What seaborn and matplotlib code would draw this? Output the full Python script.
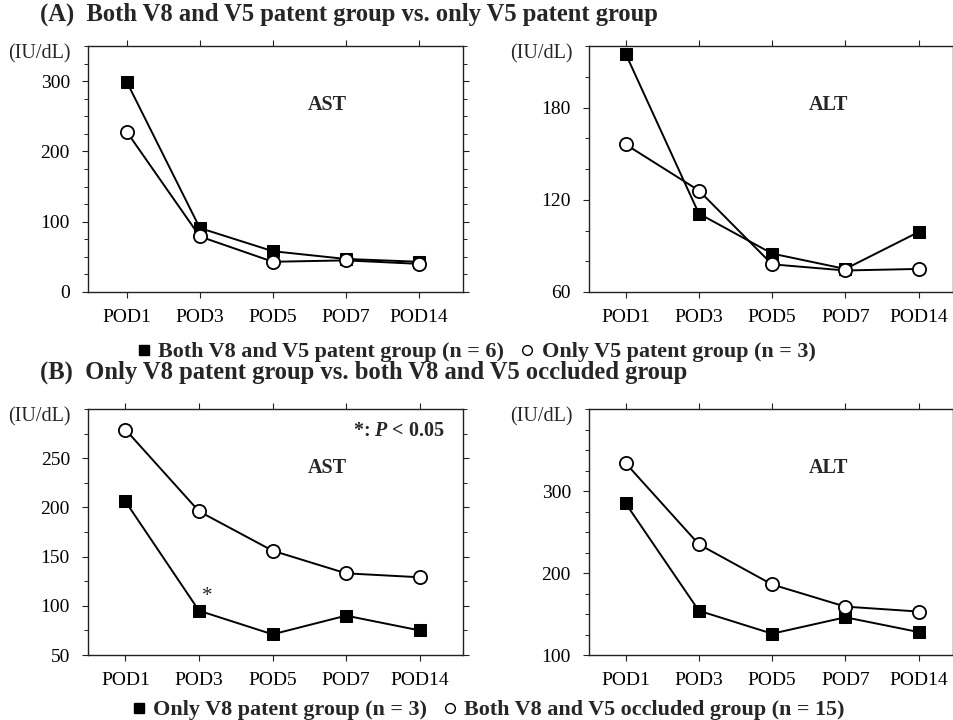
import matplotlib
matplotlib.use("Agg")
import matplotlib.pyplot as plt
from matplotlib.lines import Line2D
from matplotlib.ticker import MultipleLocator, FixedLocator
import seaborn as sns
import pandas as pd

sns.set_style("ticks")
plt.rcParams['font.family'] = ['Liberation Serif', 'DejaVu Serif']
plt.rcParams['mathtext.fontset'] = 'custom'
plt.rcParams['mathtext.it'] = 'Liberation Serif:italic:bold'
plt.rcParams['mathtext.rm'] = 'Liberation Serif:bold'

pods = ["POD1", "POD3", "POD5", "POD7", "POD14"]

# Panel A
ast_a_both = [299, 91, 58, 47, 43]
ast_a_only = [228, 79, 43, 45, 40]
alt_a_both = [215, 111, 85, 75, 99]
alt_a_only = [156, 126, 78, 74, 75]
# Panel B
ast_b_v8 = [206, 95, 71, 90, 75]
ast_b_occ = [279, 196, 156, 133, 129]
alt_b_v8 = [285, 154, 126, 146, 128]
alt_b_occ = [334, 235, 186, 159, 153]

title_a = "(A)  Both V8 and V5 patent group vs. only V5 patent group"
title_b = "(B)  Only V8 patent group vs. both V8 and V5 occluded group"
legend_a = ["Both V8 and V5 patent group (n = 6)", "Only V5 patent group (n = 3)"]
legend_b = ["Only V8 patent group (n = 3)", "Both V8 and V5 occluded group (n = 15)"]
unit = "(IU/dL)"

fig = plt.figure(figsize=(9.54, 7.2), dpi=100)
W, H = 954, 720


def make_ax(x0, x1, y0, y1):
    return fig.add_axes([x0 / W, 1 - y1 / H, (x1 - x0) / W, (y1 - y0) / H])


ax_tl = make_ax(88, 463, 46, 292)
ax_tr = make_ax(589, 953, 46, 292)
ax_bl = make_ax(88, 463, 409, 655)
ax_br = make_ax(589, 953, 409, 655)

panels = [
    (ax_tl, ast_a_both, ast_a_only, (0, 350), [0, 100, 200, 300], 25, (-0.53, 4.6), "AST", 0.637),
    (ax_tr, alt_a_both, alt_a_only, (60, 220), [60, 120, 180], 20, (-0.5, 4.47), "ALT", 0.657),
    (ax_bl, ast_b_v8, ast_b_occ, (50, 300), [50, 100, 150, 200, 250], 25, (-0.51, 4.59), "AST", 0.637),
    (ax_br, alt_b_v8, alt_b_occ, (100, 400), [100, 200, 300], 25, (-0.5, 4.47), "ALT", 0.657),
]

for ax, filled, opened, ylim, yt, minor, xlim, name, nx in panels:
    df = pd.DataFrame({"pod": pods, "filled": filled, "open": opened})
    sns.lineplot(data=df, x="pod", y="filled", ax=ax, color="black", lw=1.4,
                 marker="s", markersize=8, markerfacecolor="black",
                 markeredgecolor="black", zorder=3, sort=False)
    sns.lineplot(data=df, x="pod", y="open", ax=ax, color="black", lw=1.4,
                 marker="o", markersize=9.5, markerfacecolor="white",
                 markeredgecolor="black", markeredgewidth=1.3, zorder=4, sort=False)
    ax.set_ylim(*ylim)
    ax.set_xlim(*xlim)
    ax.yaxis.set_major_locator(FixedLocator(yt))
    ax.yaxis.set_minor_locator(MultipleLocator(minor))
    ax.set_xlabel("")
    ax.set_ylabel("")
    for s in ax.spines.values():
        s.set_visible(True)
        s.set_linewidth(1.0)
        s.set_color("#222222")
    ax.tick_params(axis="both", which="both", direction="out", top=True, right=True,
                   colors="#222222", labelcolor="black")
    ax.tick_params(axis="both", which="major", length=4, width=0.8, labelsize=14)
    ax.tick_params(axis="y", which="major", pad=9)
    ax.tick_params(axis="y", which="minor", length=3, width=0.7)
    ax.tick_params(axis="x", which="major", pad=8)
    ax.text(nx, 0.76, name, transform=ax.transAxes, fontsize=14.5, fontweight="bold",
            ha="center", va="center")
    ax.text(-0.045, 0.97, unit, transform=ax.transAxes, fontsize=14.5, ha="right", va="center")

ax_bl.text(0.952, 0.91, r"*: $P$ < 0.05", transform=ax_bl.transAxes, fontsize=14.4,
           fontweight="bold", ha="right", va="center")
ax_bl.annotate("*", xy=(1, ast_b_v8[1]), xytext=(6, 10), textcoords="offset points",
               fontsize=15, ha="center", va="center")

fig.text(40 / W, 1 - 14 / H, title_a, fontsize=17.7, fontweight="bold", ha="left", va="center")
fig.text(40 / W, 1 - 372 / H, title_b, fontsize=17.7, fontweight="bold", ha="left", va="center")

handles = [Line2D([], [], marker="s", color="black", linestyle="None", markersize=6.5),
           Line2D([], [], marker="o", color="black", markerfacecolor="white",
                  linestyle="None", markersize=7, markeredgewidth=1.0)]
leg_prop = {"family": ["Liberation Serif", "DejaVu Serif"], "weight": "bold", "size": 15.9}
fig.legend(handles, legend_a, loc="center", bbox_to_anchor=(477 / W, 1 - 352 / H), ncol=2,
           frameon=False, prop=leg_prop, handlelength=0.5, handletextpad=0.4,
           columnspacing=0.8, borderpad=0, borderaxespad=0)
fig.legend(handles, legend_b, loc="center", bbox_to_anchor=(489 / W, 1 - 710 / H), ncol=2,
           frameon=False, prop=leg_prop, handlelength=0.5, handletextpad=0.4,
           columnspacing=0.8, borderpad=0, borderaxespad=0)

fig.savefig("out.png", dpi=100, facecolor="white")
